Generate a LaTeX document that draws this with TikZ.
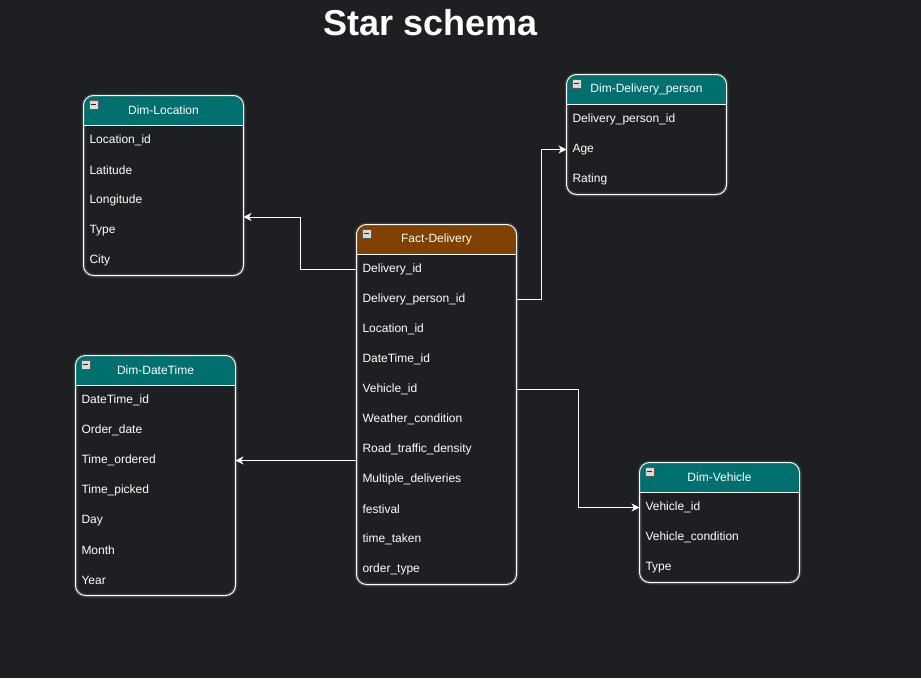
\documentclass[tikz,border=0pt]{standalone}
\usepackage{fontspec}
\setmainfont{Liberation Sans}
\usetikzlibrary{arrows.meta}
\definecolor{bgc}{RGB}{30,31,34}
\definecolor{tealhdr}{RGB}{0,112,110}
\definecolor{brownhdr}{RGB}{127,64,0}
\tikzset{
  tblframe/.style={rectangle, rounded corners=10pt, minimum width=160pt, inner sep=0pt, outer sep=0pt},
  tblline/.style={draw=white, line width=1pt},
  tblglow/.style={draw=white, opacity=0.12, line width=4pt},
  hdrtext/.style={text=white, font=\fontsize{12}{14}\selectfont, inner sep=0pt},
  rowtext/.style={text=white, font=\fontsize{12}{14}\selectfont, minimum height=30pt, text width=148pt, inner xsep=6pt, inner ysep=0pt, align=left, outer sep=0pt},
  minusbox/.style={rectangle, draw=gray!70!black, fill=gray!30!white, minimum size=9pt, inner sep=0pt, line width=0.8pt},
  minusbar/.style={draw=black!85, line width=1.5pt},
  conn/.style={draw=white, line width=1pt, -{Stealth[length=8pt,width=8pt,inset=2.5pt]}},
}
\newcommand\erdtable[6]{%
  \node[tblframe, minimum height={30+30*#5}, anchor=north west, fill=bgc] (#1) at #2 {};
  \draw[tblglow, rounded corners=10pt] (#1.north west) rectangle (#1.south east);
  \fill[#3] ([yshift=-30pt]#1.north west) [rounded corners=10pt] -- (#1.north west) -- (#1.north east) [sharp corners] -- ([yshift=-30pt]#1.north east) -- cycle;
  \draw[tblline, rounded corners=10pt] (#1.north west) rectangle (#1.south east);
  \draw[tblline] ([yshift=-30pt]#1.north west) -- ([yshift=-30pt]#1.north east);
  \node[hdrtext] (#1-h) at ([yshift=-15pt]#1.north) {#4};
  \node[minusbox, anchor=north west] (#1-m) at ([xshift=5pt,yshift=-4pt]#1.north west) {};
  \draw[minusbar] ([xshift=2pt]#1-m.west) -- ([xshift=-2pt]#1-m.east);
  \foreach \t [count=\i] in {#6} {
    \node[rowtext, anchor=west] (#1-\i) at ([yshift=-15pt-30pt*\i]#1.north west) {\t};
  }%
}
\begin{document}
\begin{tikzpicture}[x=1pt,y=-1pt]
\useasboundingbox (0,0) rectangle (921,678);
\fill[bgc] (0,0) rectangle (921,678);

\node[text=white, font=\bfseries\fontsize{36}{40}\selectfont, inner sep=0pt] (title) at (430.5,23) {Star schema};

\erdtable{loc}{(83.5,95.5)}{tealhdr}{Dim-Location}{5}{Location\_id,Latitude,Longitude,Type,City}
\erdtable{dp}{(566.5,74.5)}{tealhdr}{Dim-Delivery\_person}{3}{Delivery\_person\_id,Age,Rating}
\erdtable{fd}{(356.5,224.5)}{brownhdr}{Fact-Delivery}{11}{Delivery\_id,Delivery\_person\_id,Location\_id,DateTime\_id,Vehicle\_id,Weather\_condition,Road\_traffic\_density,Multiple\_deliveries,festival,time\_taken,order\_type}
\erdtable{dt}{(75.5,355.5)}{tealhdr}{Dim-DateTime}{7}{DateTime\_id,Order\_date,Time\_ordered,Time\_picked,Day,Month,Year}
\erdtable{veh}{(639.5,462.5)}{tealhdr}{Dim-Vehicle}{3}{Vehicle\_id,Vehicle\_condition,Type}

\coordinate (locin) at ([yshift=-121.5pt]loc.north east);

\draw[conn] (fd-1.west) -- ++(-56,0) |- (locin);
\draw[conn] (fd-2.east) -- ++(25,0) |- (dp-2.west);
\draw[conn] (fd-5.east) -- ++(62,0) |- (veh-1.west);
\draw[conn] (fd.west |- dt-3.east) -- (dt-3.east);
\end{tikzpicture}
\end{document}
